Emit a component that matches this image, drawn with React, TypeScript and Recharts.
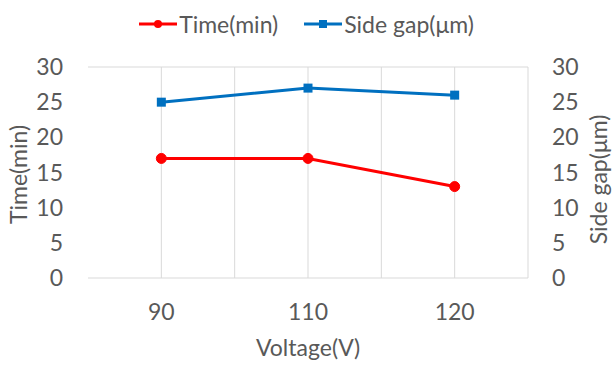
import React from 'react';
import { LineChart, Line, XAxis, YAxis, CartesianGrid, Legend } from 'recharts';

// Process data: etching voltage vs. processing time and resulting side gap
const voltages = ['90', '110', '120'];
const timeMin = [17, 17, 13];
const sideGapUm = [25, 27, 26];
const yTicks = [0, 5, 10, 15, 20, 25, 30];
const seriesOrder = ['time', 'gap'];

const data = voltages.map((v, i) => ({ voltage: v, time: timeMin[i], gap: sideGapUm[i] }));

const FONT = 'Lato, "Open Sans", sans-serif';
const TEXT = '#595959';
const GRID = '#d9d9d9';
const RED = '#FF0000';
const BLUE = '#0070C0';
const FS = 23;

const SquareDot = (props: any) => {
  const { cx, cy } = props;
  if (cx == null || cy == null) return null;
  return <rect x={cx - 4.5} y={cy - 4.5} width={9} height={9} fill={BLUE} />;
};

const renderLegend = (props: any) => {
  const payload = [...(props.payload || [])].sort(
    (a: any, b: any) => seriesOrder.indexOf(a.dataKey) - seriesOrder.indexOf(b.dataKey)
  );
  return (
    <div
      style={{
        display: 'flex',
        justifyContent: 'center',
        alignItems: 'center',
        height: 28,
        fontFamily: FONT,
        fontSize: FS,
        color: TEXT,
        whiteSpace: 'nowrap',
      }}
    >
      {payload.map((entry: any, idx: number) => {
        const isGap = entry.dataKey === 'gap';
        return (
          <span
            key={entry.value}
            style={{ display: 'flex', alignItems: 'center', marginLeft: idx === 0 ? 0 : 26 }}
          >
            <svg width={38} height={12} style={{ marginRight: 2 }}>
              <line x1={0} y1={6} x2={38} y2={6} stroke={entry.color} strokeWidth={3} />
              {isGap ? (
                <rect x={15} y={2} width={8} height={8} fill={entry.color} />
              ) : (
                <circle cx={19} cy={6} r={4} fill={entry.color} />
              )}
            </svg>
            <span>{entry.value}</span>
          </span>
        );
      })}
    </div>
  );
};

// vertical grid: band centres and band edges, excluding the left edge
const verticalGrid = ({ offset }: any) => {
  const pts: number[] = [];
  const n = voltages.length * 2;
  for (let i = 1; i <= n; i++) pts.push(offset.left + (offset.width * i) / n);
  return pts;
};

export default function App() {
  return (
    <div style={{ position: 'absolute', left: 0, top: 0, background: '#fff' }}>
      <LineChart
        width={613}
        height={365}
        data={data}
        margin={{ top: 39, right: 0, left: 0, bottom: 0 }}
      >
        <CartesianGrid
          stroke={GRID}
          strokeWidth={1}
          verticalCoordinatesGenerator={verticalGrid}
        />
        <XAxis
          dataKey="voltage"
          scale="band"
          height={87}
          axisLine={false}
          tickLine={false}
          tickSize={0}
          tickMargin={26}
          tick={{ fill: TEXT, fontSize: FS, fontFamily: FONT }}
          label={{
            value: 'Voltage(V)',
            position: 'insideBottom',
            offset: 9,
            fill: TEXT,
            fontSize: FS,
            fontFamily: FONT,
          }}
        />
        <YAxis
          yAxisId="left"
          width={88}
          domain={[0, 30]}
          ticks={yTicks}
          axisLine={false}
          tickLine={false}
          tickSize={0}
          tickMargin={25}
          tick={{ fill: TEXT, fontSize: FS, fontFamily: FONT }}
          label={{
            value: 'Time(min)',
            angle: -90,
            position: 'center',
            dx: -25,
            dy: 2,
            fill: TEXT,
            fontSize: FS,
            fontFamily: FONT,
          }}
        />
        <YAxis
          yAxisId="right"
          orientation="right"
          width={85}
          domain={[0, 30]}
          ticks={yTicks}
          axisLine={false}
          tickLine={false}
          tickSize={0}
          tickMargin={24}
          tick={{ fill: TEXT, fontSize: FS, fontFamily: FONT, textAnchor: 'start' }}
          label={{
            value: 'Side gap(μm)',
            angle: -90,
            position: 'center',
            dx: 28,
            dy: 7,
            fill: TEXT,
            fontSize: FS,
            fontFamily: FONT,
          }}
        />
        <Legend
          verticalAlign="top"
          width={613}
          wrapperStyle={{ top: 10, left: 0 }}
          content={renderLegend}
        />
        <Line
          yAxisId="left"
          dataKey="time"
          name="Time(min)"
          stroke={RED}
          strokeWidth={3}
          dot={{ r: 5, fill: RED, stroke: RED, strokeWidth: 1 }}
          activeDot={false}
          isAnimationActive={false}
        />
        <Line
          yAxisId="right"
          dataKey="gap"
          name="Side gap(μm)"
          stroke={BLUE}
          strokeWidth={3}
          dot={<SquareDot />}
          activeDot={false}
          isAnimationActive={false}
        />
      </LineChart>
    </div>
  );
}
